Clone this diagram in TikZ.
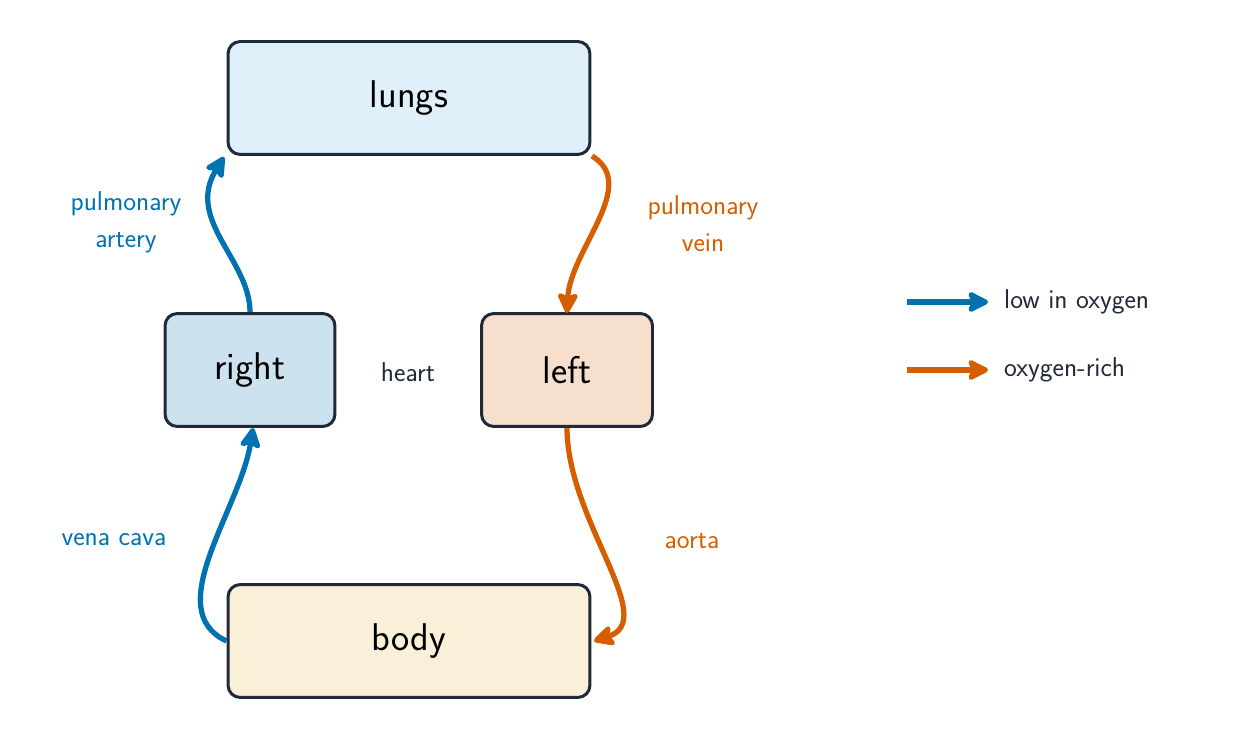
\documentclass[tikz,border=0pt]{standalone}
\usetikzlibrary{arrows.meta}
\definecolor{frame}{HTML}{1F2937}
\definecolor{cblue}{HTML}{0072B2}
\definecolor{corange}{HTML}{D55E00}
\definecolor{flungs}{HTML}{E0F0FA}
\definecolor{fright}{HTML}{CCE2EF}
\definecolor{fleft}{HTML}{F6DFCC}
\definecolor{fbody}{HTML}{FAF0DA}
\begin{document}
\begin{tikzpicture}[x=0.02cm,y=-0.02cm,
  box/.style={draw=frame,line width=1.7pt,rounded corners=7pt,font=\sffamily\fontsize{22}{26}\selectfont},
  flow/.style={line width=3pt,-{Stealth[length=14pt,width=14pt,round,inset=3pt]}},
  lbl/.style={font=\sffamily\fontsize{15.5}{21}\selectfont,align=center}]
\useasboundingbox (0,0) rectangle (1236,742);
\node[box,fill=flungs,minimum width=7.24cm,minimum height=2.26cm] (lungs) at (409,98) {lungs};
\node[box,fill=fright,minimum width=3.4cm,minimum height=2.26cm] (right) at (250,370) {right};
\node[box,fill=fleft,minimum width=3.42cm,minimum height=2.26cm] (left) at (567,370) {left};
\node[box,fill=fbody,minimum width=7.24cm,minimum height=2.26cm] (body) at (409,641) {body};
\node[lbl,text=frame] (heart) at (408,372) {heart};
\coordinate (a1) at (224,157);
\coordinate (a2) at (592,156);
\coordinate (a3) at (567,313);
\coordinate (a4) at (253,428);
\coordinate (a5) at (594,641);
\draw[flow,cblue] (right.north) .. controls (250,260) and (185,220) .. (a1);
\draw[flow,corange] (a2) .. controls (640,185) and (570,250) .. (a3);
\draw[flow,corange] (left.south) .. controls (567,520) and (660,620) .. (a5);
\draw[flow,cblue] (body.west) .. controls (160,610) and (240,510) .. (a4);
\node[lbl,text=cblue] (l1) at (126,222) {pulmonary\\artery};
\node[lbl,text=corange] (l2) at (703,224) {pulmonary\\vein};
\node[lbl,text=cblue] (l3) at (114,540) {vena cava};
\node[lbl,text=corange] (l4) at (692,541) {aorta};
\coordinate (k1) at (907,302); \coordinate (k2) at (988,302);
\coordinate (k3) at (907,370); \coordinate (k4) at (988,370);
\draw[flow,cblue] (k1) -- (k2);
\draw[flow,corange] (k3) -- (k4);
\node[lbl,text=frame,anchor=west] (t1) at (998,302) {low in oxygen};
\node[lbl,text=frame,anchor=west] (t2) at (998,370) {oxygen-rich};
\end{tikzpicture}
\end{document}
